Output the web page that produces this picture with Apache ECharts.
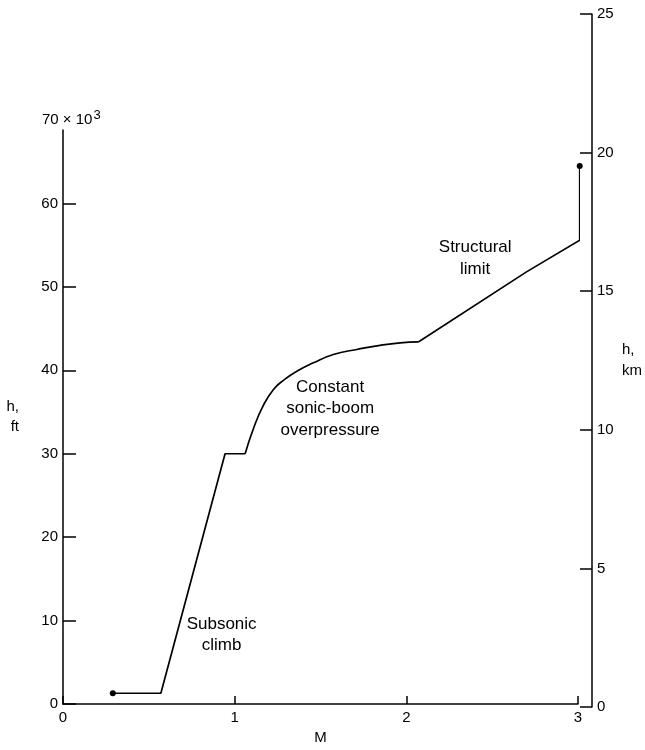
<!DOCTYPE html>
<html>
<head>
<meta charset="utf-8">
<script src="https://cdn.jsdelivr.net/npm/echarts@6/dist/echarts.min.js"></script>
<style>
html,body{margin:0;padding:0;background:#fff;}
#c{width:645px;height:750px;}
</style>
</head>
<body>
<div id="c"></div>
<script>
// Mach number and altitude (thousands of ft) along the flight path
var machValues = [0.29, 0.57, 0.944, 1.061, 1.109, 1.167, 1.226, 1.284, 1.362, 1.459, 1.575, 1.712, 1.847, 1.964, 2.07, 2.70, 3.01, 3.01];
var altValues  = [1.3, 1.3, 30.0, 30.0, 33.0, 35.8, 37.7, 38.8, 39.9, 40.9, 41.9, 42.5, 43.0, 43.3, 43.4, 51.8, 55.6, 64.5];
var machTicks = [0, 1, 2, 3];
var ftTicks = [0, 10, 20, 30, 40, 50, 60];
var kmTicks = [0, 5, 10, 15, 20, 25];
var annotationTexts = ['Subsonic\nclimb', 'Constant\nsonic-boom\noverpressure', 'Structural\nlimit'];
var annotationMach = [0.924, 1.556, 2.401];
var annotationAlt = [8.3, 35.4, 53.4];

var FONT = 'Liberation Sans';
var pts = machValues.map(function (m, i) { return [m, altValues[i]]; });
var climb = pts.slice(0, 4);
var curve = pts.slice(3, 15);
var upper = pts.slice(14);
var ends = [pts[0], pts[pts.length - 1]];
var notes = annotationTexts.map(function (t, i) { return { name: t, value: [annotationMach[i], annotationAlt[i]] }; });

var chart = echarts.init(document.getElementById('c'));
var lineStyle = { color: '#000', width: 1.7 };
var axisLineStyle = { onZero: false, lineStyle: { color: '#000', width: 1.5 } };
var labelStyle = { color: '#000', fontSize: 15, fontFamily: FONT };

chart.setOption({
  backgroundColor: '#fff',
  animation: false,
  grid: [
    { left: 63, right: 67, top: 130, bottom: 41 },
    { left: 63, right: 49, top: 14, bottom: 43 }
  ],
  xAxis: [
    {
      gridIndex: 0, type: 'value', min: machTicks[0], max: machTicks[machTicks.length - 1], interval: 1,
      axisLine: axisLineStyle,
      axisTick: { inside: true, length: 8, lineStyle: { color: '#000', width: 1.5 } },
      axisLabel: Object.assign({ margin: 6 }, labelStyle),
      splitLine: { show: false },
      name: 'M', nameLocation: 'middle', nameGap: 24,
      nameTextStyle: { color: '#000', fontSize: 15, fontFamily: FONT }
    },
    { gridIndex: 1, type: 'value', min: 0, max: 3, show: false }
  ],
  yAxis: [
    {
      gridIndex: 0, type: 'value', min: 0, max: 68.8,
      axisLine: axisLineStyle,
      axisTick: { inside: true, length: 13, customValues: ftTicks, lineStyle: { color: '#000', width: 1.5 } },
      axisLabel: Object.assign({ margin: 5, customValues: ftTicks }, labelStyle),
      splitLine: { show: false },
      name: 'h,\nft', nameLocation: 'middle', nameGap: 44, nameRotate: 0,
      nameTextStyle: { color: '#000', fontSize: 15, fontFamily: FONT, lineHeight: 20 }
    },
    {
      gridIndex: 1, type: 'value', position: 'right', min: kmTicks[0], max: kmTicks[kmTicks.length - 1], interval: 5,
      axisLine: axisLineStyle,
      axisTick: { inside: true, length: 12, lineStyle: { color: '#000', width: 1.5 } },
      axisLabel: Object.assign({ margin: 5 }, labelStyle),
      splitLine: { show: false },
      name: 'h,\nkm', nameLocation: 'middle', nameGap: 30, nameRotate: 0,
      nameTextStyle: { color: '#000', fontSize: 15, fontFamily: FONT, lineHeight: 21, padding: [0, 0, 14, 0] }
    }
  ],
  series: [
    { type: 'line', xAxisIndex: 0, yAxisIndex: 0, data: climb, symbol: 'none', clip: false, lineStyle: lineStyle },
    { type: 'line', xAxisIndex: 0, yAxisIndex: 0, data: curve, symbol: 'none', smooth: 0.5, clip: false, lineStyle: lineStyle },
    { type: 'line', xAxisIndex: 0, yAxisIndex: 0, data: upper, symbol: 'none', clip: false, lineStyle: lineStyle },
    { type: 'scatter', xAxisIndex: 0, yAxisIndex: 0, data: ends, symbolSize: 6, clip: false, itemStyle: { color: '#000', opacity: 1 } },
    {
      type: 'scatter', xAxisIndex: 0, yAxisIndex: 0, data: notes, symbolSize: 1, clip: false,
      itemStyle: { color: 'rgba(0,0,0,0)', opacity: 1 },
      label: {
        show: true, position: 'inside', formatter: '{b}', color: '#000', opacity: 1, textBorderWidth: 0,
        fontSize: 17, fontFamily: FONT, lineHeight: 21.5, align: 'center', verticalAlign: 'middle'
      }
    }
  ]
});

var y70 = chart.convertToPixel({ yAxisIndex: 0 }, 70);
var x0 = chart.convertToPixel({ xAxisIndex: 0 }, 0);
chart.setOption({
  graphic: [{
    type: 'text',
    x: x0 - 21, y: y70,
    style: {
      text: '{a|70 × 10}{b|3}',
      verticalAlign: 'middle',
      rich: {
        a: { fontSize: 15, fontFamily: FONT, fill: '#000', color: '#000' },
        b: { fontSize: 13, fontFamily: FONT, fill: '#000', color: '#000', padding: [0, 0, 9, 1] }
      }
    }
  }]
});
</script>
</body>
</html>
